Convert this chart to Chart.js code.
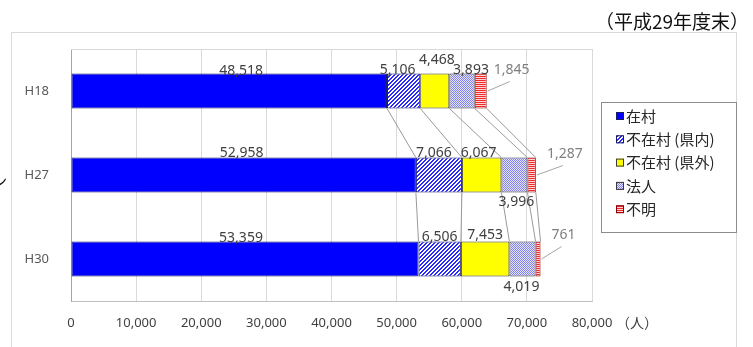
<!DOCTYPE html>
<html>
<head>
<meta charset="utf-8">
<script src="https://cdn.jsdelivr.net/npm/chart.js@4.4.1/dist/chart.umd.min.js"></script>
<style>
  html, body { margin: 0; padding: 0; background: #ffffff; }
  #wrap { position: relative; width: 753px; height: 347px; }
</style>
</head>
<body>
<div id="wrap"><canvas id="c" width="753" height="347"></canvas></div>
<script>
// 所有者区分別の森林所有者数（人）
const years = ['H18', 'H27', 'H30'];
const seriesNames = ['在村', '不在村 (県内)', '不在村 (県外)', '法人', '不明'];
const zaison = [48518, 52958, 53359];
const fuzaisonKennai = [5106, 7066, 6506];
const fuzaisonKengai = [4468, 6067, 7453];
const houjin = [3893, 3996, 4019];
const fumei = [1845, 1287, 761];
const xTickValues = [0, 10000, 20000, 30000, 40000, 50000, 60000, 70000, 80000];
const titleText = '（平成29年度末）';
const unitText = '（人）';

const JP = '"Noto Sans CJK JP", "Noto Sans", sans-serif';
const NUM = '"Noto Sans", "Liberation Sans", sans-serif';

const canvas = document.getElementById('c');
const ctx0 = canvas.getContext('2d');

// small tiled fills for the hatched / dotted / striped segments
function tile(w, h, paint) {
  const t = document.createElement('canvas');
  t.width = w; t.height = h;
  const g = t.getContext('2d');
  for (let y = 0; y < h; y++) {
    for (let x = 0; x < w; x++) {
      g.fillStyle = paint(x, y);
      g.fillRect(x, y, 1, 1);
    }
  }
  return ctx0.createPattern(t, 'repeat');
}
const diagBlue = tile(4, 4, (x, y) => ((x + y) % 4 < 2 ? '#2a2aff' : '#ffffff'));
const dotBlue = tile(2, 2, (x, y) => ((x + y) % 2 === 0 ? '#8484e8' : '#e4e4ff'));
const stripeRed = tile(2, 2, (x, y) => (y % 2 === 0 ? '#ee2a2a' : '#ffd4d4'));

const seriesData = [zaison, fuzaisonKennai, fuzaisonKengai, houjin, fumei];
const fills = ['#0000ff', diagBlue, '#ffff00', dotBlue, stripeRed];
const edges = ['#1a1a66', '#1a1a66', '#3a3a3a', '#3a3a3a', '#8b0000'];

// where each value label sits relative to its segment
const labelPlacement = [
  [{ at: 'above', dx: 12, dy: 1 }, { at: 'above', dx: -2, dy: -1 }, { at: 'above', dx: -4, dy: 0 }],
  [{ at: 'above', dx: -6, dy: 0 }, { at: 'above', dx: -5, dy: -1 }, { at: 'above', dx: 0, dy: -1 }],
  [{ at: 'above', dx: 2, dy: -10 }, { at: 'above', dx: -3, dy: -1 }, { at: 'above', dx: 0, dy: -3 }],
  [{ at: 'above', dx: 9, dy: 0 }, { at: 'below', dx: 2, dy: 14 }, { at: 'below', dx: -1, dy: 15 }],
  [{ at: 'callout', dx: 25, dy: 0 }, { at: 'callout', dx: 29, dy: 0 }, { at: 'callout', dx: 23, dy: -3 }]
];

const fmt = v => v.toLocaleString('en-US');

const pagePlugin = {
  id: 'page',
  beforeDraw(chart) {
    const c = chart.ctx;
    c.save();
    c.fillStyle = '#ffffff';
    c.fillRect(0, 0, chart.width, chart.height);
    // outer frame
    c.strokeStyle = '#d9d9d9';
    c.lineWidth = 1;
    c.strokeRect(11.5, 32.5, 725, 330);
    // heading
    c.fillStyle = '#111111';
    c.font = '19px ' + JP;
    c.textAlign = 'right';
    c.textBaseline = 'middle';
    c.fillText(titleText, 749, 22);
    // fragment of neighbouring text at the left edge
    c.font = '14px ' + JP;
    c.textAlign = 'left';
    c.fillText('ン', -7, 181);
    c.restore();
  },
  beforeDatasetsDraw(chart) {
    const c = chart.ctx, a = chart.chartArea;
    c.save();
    c.strokeStyle = '#d9d9d9';
    c.lineWidth = 1;
    c.beginPath();
    c.moveTo(a.left, a.top + 0.5);
    c.lineTo(a.right, a.top + 0.5);
    c.stroke();
    c.restore();
  },
  afterDatasetsDraw(chart) {
    const c = chart.ctx;
    const metas = seriesData.map((_, d) => chart.getDatasetMeta(d));
    c.save();
    // series lines between neighbouring bars
    c.strokeStyle = '#9a9a9a';
    c.lineWidth = 1;
    for (let i = 0; i < years.length - 1; i++) {
      metas.forEach(m => {
        const a = m.data[i], b = m.data[i + 1];
        c.beginPath();
        c.moveTo(a.x, a.y + a.height / 2);
        c.lineTo(b.x, b.y - b.height / 2);
        c.stroke();
      });
    }
    // value labels
    c.font = '14px ' + NUM;
    c.textAlign = 'center';
    c.textBaseline = 'alphabetic';
    metas.forEach((m, d) => {
      m.data.forEach((el, i) => {
        const p = labelPlacement[d][i];
        const top = el.y - el.height / 2;
        const bottom = el.y + el.height / 2;
        const txt = fmt(seriesData[d][i]);
        if (p.at === 'callout') {
          const x = el.x + p.dx, y = top + p.dy;
          c.strokeStyle = '#a6a6a6';
          c.beginPath();
          c.moveTo(x - 2, y + 8);
          c.lineTo(el.x + 1, el.y);
          c.stroke();
          c.fillStyle = '#7f7f7f';
          c.fillText(txt, x, y);
        } else {
          const cx = (el.x + el.base) / 2 + p.dx;
          const y = (p.at === 'below' ? bottom : top) + p.dy;
          c.fillStyle = '#404040';
          c.fillText(txt, cx, y);
        }
      });
    });
    c.restore();
  },
  afterDraw(chart) {
    const c = chart.ctx;
    const xs = chart.scales.x;
    c.save();
    // unit beside the value axis
    c.fillStyle = '#404040';
    c.font = '14px ' + JP;
    c.textAlign = 'left';
    c.textBaseline = 'middle';
    c.fillText(unitText, 616, xs.bottom - 24);
    // legend
    c.strokeStyle = '#8c8c8c';
    c.lineWidth = 1;
    c.strokeRect(601.5, 102.5, 135, 130);
    c.font = '15px ' + JP;
    seriesNames.forEach((name, d) => {
      const cy = 116 + d * 23.3;
      c.fillStyle = fills[d];
      c.fillRect(616, cy - 4, 8, 8);
      c.strokeStyle = edges[d];
      c.strokeRect(616.5, cy - 3.5, 7, 7);
      c.fillStyle = '#262626';
      c.fillText(name, 626, cy);
    });
    c.restore();
  }
};

new Chart(canvas, {
  type: 'bar',
  data: {
    labels: years,
    datasets: seriesNames.map((name, d) => ({
      label: name,
      data: seriesData[d],
      backgroundColor: fills[d],
      borderColor: edges[d],
      borderWidth: 1,
      borderSkipped: false,
      barPercentage: 0.415,
      categoryPercentage: 1.0
    }))
  },
  options: {
    indexAxis: 'y',
    responsive: false,
    animation: false,
    devicePixelRatio: 1,
    layout: { padding: { top: 49, right: 161, left: 0, bottom: 0 } },
    plugins: { legend: { display: false }, tooltip: { enabled: false } },
    scales: {
      x: {
        stacked: true,
        min: 0,
        max: 80000,
        afterBuildTicks: s => { s.ticks = xTickValues.map(v => ({ value: v })); },
        afterFit: s => { s.height = 46; },
        ticks: {
          callback: v => fmt(v),
          color: '#404040',
          font: { family: NUM, size: 13 },
          padding: 14,
          maxRotation: 0,
          autoSkip: false
        },
        grid: { color: '#d9d9d9', drawTicks: false },
        border: { display: true, color: '#bfbfbf' }
      },
      y: {
        stacked: true,
        afterFit: s => { s.width = 71; },
        ticks: { color: '#595959', font: { family: NUM, size: 13 }, padding: 14 },
        grid: { display: false },
        border: { display: true, color: '#a6a6a6' }
      }
    }
  },
  plugins: [pagePlugin]
});
</script>
</body>
</html>
